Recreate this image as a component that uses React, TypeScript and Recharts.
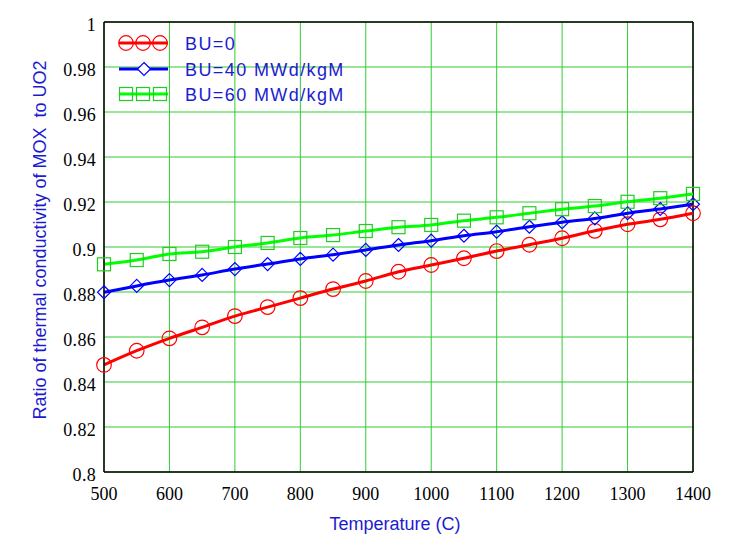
import React from 'react';
import { LineChart, Line, XAxis, YAxis, CartesianGrid, ReferenceLine } from 'recharts';

const temps = [500, 550, 600, 650, 700, 750, 800, 850, 900, 950, 1000, 1050, 1100, 1150, 1200, 1250, 1300, 1350, 1400];
const bu0 = [0.8476, 0.8539, 0.8594, 0.8643, 0.8693, 0.8733, 0.8773, 0.8813, 0.8849, 0.889, 0.892, 0.895, 0.8982, 0.901, 0.9039, 0.9072, 0.9101, 0.9123, 0.915];
const bu40 = [0.8799, 0.8827, 0.8853, 0.8876, 0.8902, 0.8924, 0.8947, 0.8966, 0.8987, 0.9009, 0.9028, 0.905, 0.9068, 0.909, 0.911, 0.9127, 0.915, 0.9169, 0.919];
const bu60 = [0.8923, 0.8942, 0.8969, 0.8979, 0.9, 0.9018, 0.904, 0.9053, 0.9071, 0.9088, 0.9098, 0.9117, 0.9132, 0.915, 0.9168, 0.9182, 0.9201, 0.9217, 0.9236];
const xTicks = [500, 600, 700, 800, 900, 1000, 1100, 1200, 1300, 1400];
const yTicks = [0.8, 0.82, 0.84, 0.86, 0.88, 0.9, 0.92, 0.94, 0.96, 0.98, 1];
const seriesNames = ['BU=0', 'BU=40 MWd/kgM', 'BU=60 MWd/kgM'];

const data = temps.map((t, i) => ({ t, bu0: bu0[i], bu40: bu40[i], bu60: bu60[i] }));

const RED = '#ff0000';
const BLUE = '#0000ff';
const GREEN = '#00ff00';
const GREEN_MARK = '#22cc22';
const GRID = '#33cc33';
const LABEL = '#1c1ccf';
const sans = '"Liberation Sans", Arial, sans-serif';
const serif = '"Liberation Serif", "Times New Roman", serif';

const circleDot = (p: any) => (
  <circle key={`c${p.index}`} cx={p.cx} cy={p.cy} r={7.3} stroke={RED} strokeWidth={1.2} fill="none" />
);
const diamondDot = (p: any) => (
  <path key={`d${p.index}`} d={`M${p.cx},${p.cy - 6.5}L${p.cx + 6.5},${p.cy}L${p.cx},${p.cy + 6.5}L${p.cx - 6.5},${p.cy}Z`} stroke={BLUE} strokeWidth={1.2} fill="none" />
);
const squareDot = (p: any) => (
  <rect key={`s${p.index}`} x={p.cx - 6.5} y={p.cy - 6.5} width={13} height={13} stroke={GREEN_MARK} strokeWidth={1.2} fill="none" />
);

const fmt = (v: number) => String(Number(v.toFixed(2)));

const XTick = (p: any) => (
  <text x={p.x} y={p.y + 20} textAnchor="middle" fill="#000" fontFamily={serif} fontSize={18}>
    {p.payload.value}
  </text>
);
const YTick = (p: any) => (
  <text x={p.x} y={p.y + 9} textAnchor="end" fill="#000" fontFamily={serif} fontSize={18} letterSpacing={0.3}>
    {fmt(p.payload.value)}
  </text>
);

const LegendBox = () => (
  <svg width={260} height={80} style={{ position: 'absolute', left: 110, top: 28 }}>
    <line x1={9} y1={15} x2={58} y2={15} stroke={RED} strokeWidth={3} />
    {[16, 33, 50].map((x) => (
      <circle key={x} cx={x} cy={15} r={7.3} stroke={RED} strokeWidth={1.2} fill="none" />
    ))}
    <text x={75} y={22} fill={LABEL} fontFamily={sans} fontSize={18} letterSpacing={1.4}>{seriesNames[0]}</text>
    <line x1={9} y1={41} x2={58} y2={41} stroke={BLUE} strokeWidth={3} />
    <path d="M34,34.5L40.5,41L34,47.5L27.5,41Z" stroke={BLUE} strokeWidth={1.2} fill="#fff" />
    <text x={75} y={48} fill={LABEL} fontFamily={sans} fontSize={18} letterSpacing={1.4}>{seriesNames[1]}</text>
    <line x1={9} y1={66} x2={58} y2={66} stroke={GREEN} strokeWidth={3} />
    {[16, 33, 50].map((x) => (
      <rect key={x} x={x - 6.5} y={59.5} width={13} height={13} stroke={GREEN_MARK} strokeWidth={1.2} fill="none" />
    ))}
    <text x={75} y={73} fill={LABEL} fontFamily={sans} fontSize={18} letterSpacing={1.4}>{seriesNames[2]}</text>
  </svg>
);

export default function App() {
  return (
    <div style={{ position: 'absolute', left: 0, top: 0, width: 738, height: 546, background: '#fff' }}>
      <LineChart width={738} height={546} data={data} margin={{ top: 22, right: 45, left: 44, bottom: 24 }}>
        <CartesianGrid stroke={GRID} strokeWidth={1} />
        <XAxis
          dataKey="t"
          type="number"
          domain={[500, 1400]}
          ticks={xTicks}
          height={50}
          tickLine={false}
          axisLine={{ stroke: '#000', strokeWidth: 1.5 }}
          tick={XTick}
          label={{
            content: () => (
              <text x={395} y={530} textAnchor="middle" fill={LABEL} fontFamily={sans} fontSize={18}>
                Temperature (C)
              </text>
            ),
          }}
        />
        <YAxis
          type="number"
          domain={[0.8, 1]}
          ticks={yTicks}
          width={60}
          tickLine={false}
          axisLine={{ stroke: '#000', strokeWidth: 1.5 }}
          tick={YTick}
          label={{
            content: () => (
              <text x={46} y={240} transform="rotate(-90 46 240)" textAnchor="middle" fill={LABEL} fontFamily={sans} fontSize={18} style={{ whiteSpace: 'pre' }}>
                Ratio of thermal conductivity of MOX  to UO2
              </text>
            ),
          }}
        />
        <ReferenceLine y={1} stroke="#000" strokeWidth={1.5} />
        <ReferenceLine x={1400} stroke="#000" strokeWidth={1.5} />
        <Line dataKey="bu0" name={seriesNames[0]} stroke={RED} strokeWidth={3} dot={circleDot} isAnimationActive={false} type="monotone" />
        <Line dataKey="bu40" name={seriesNames[1]} stroke={BLUE} strokeWidth={3} dot={diamondDot} isAnimationActive={false} type="monotone" />
        <Line dataKey="bu60" name={seriesNames[2]} stroke={GREEN} strokeWidth={3} dot={squareDot} isAnimationActive={false} type="monotone" />
      </LineChart>
      <LegendBox />
    </div>
  );
}
